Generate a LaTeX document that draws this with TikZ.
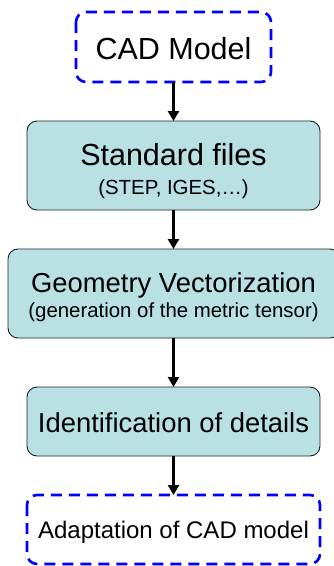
\documentclass[tikz,border=0pt]{standalone}
\usepackage{fontspec}
\setmainfont{Liberation Sans}
\usetikzlibrary{arrows.meta}
\definecolor{stagefill}{HTML}{B9E0E3}
\definecolor{stageline}{HTML}{202020}
\tikzset{
  x=1pt, y=-1pt,
  stage/.style={draw=stageline, line width=0.9pt, fill=stagefill, rounded corners=10pt},
  endpoint/.style={draw=blue, line width=2.6pt, rounded corners=10pt, dash pattern=on 11pt off 7pt},
  flow/.style={line width=2.6pt, -{Triangle[width=11pt,length=10pt]}},
  big/.style={font=\fontsize{30.5}{32}\selectfont, anchor=base},
  mid/.style={font=\fontsize{27.4}{29}\selectfont, anchor=base},
  small/.style={font=\fontsize{24}{26}\selectfont, anchor=base},
  sub/.style={font=\fontsize{20.4}{22}\selectfont, anchor=base},
}
\begin{document}
\begin{tikzpicture}
\useasboundingbox (0,0) rectangle (333,566);

% box outlines
\draw[endpoint] (76,12) rectangle (271,82);
\draw[stage] (27,121) rectangle (320,210);
\draw[stage] (8,249) rectangle (340,338);
\draw[stage] (27,387) rectangle (320,456);
\draw[endpoint] (27,495) rectangle (320,564);

% anchor points for the connectors
\coordinate (cadB) at (173.5,82);
\coordinate (stdT) at (173.5,121);
\coordinate (stdB) at (173.5,210);
\coordinate (geoT) at (173.5,249);
\coordinate (geoB) at (173.5,338);
\coordinate (idT) at (173.5,387);
\coordinate (idB) at (173.5,456);
\coordinate (adT) at (173.5,495);

% texts
\node[big] (cad) at (173.5,59) {CAD Model};
\node[big] (std) at (173.5,165) {Standard files};
\node[sub] (stdsub) at (173.5,194) {(STEP, IGES,…)};
\node[mid] (geo) at (173.5,292) {Geometry Vectorization};
\node[sub] (geosub) at (173.5,317) {(generation of the metric tensor)};
\node[mid] (ident) at (173.5,432) {Identification of details};
\node[small] (adapt) at (173.5,538) {Adaptation of CAD model};

% connectors
\draw[flow] (cadB) -- (stdT);
\draw[flow] (stdB) -- (geoT);
\draw[flow] (geoB) -- (idT);
\draw[flow] (idB) -- (adT);
\end{tikzpicture}
\end{document}
